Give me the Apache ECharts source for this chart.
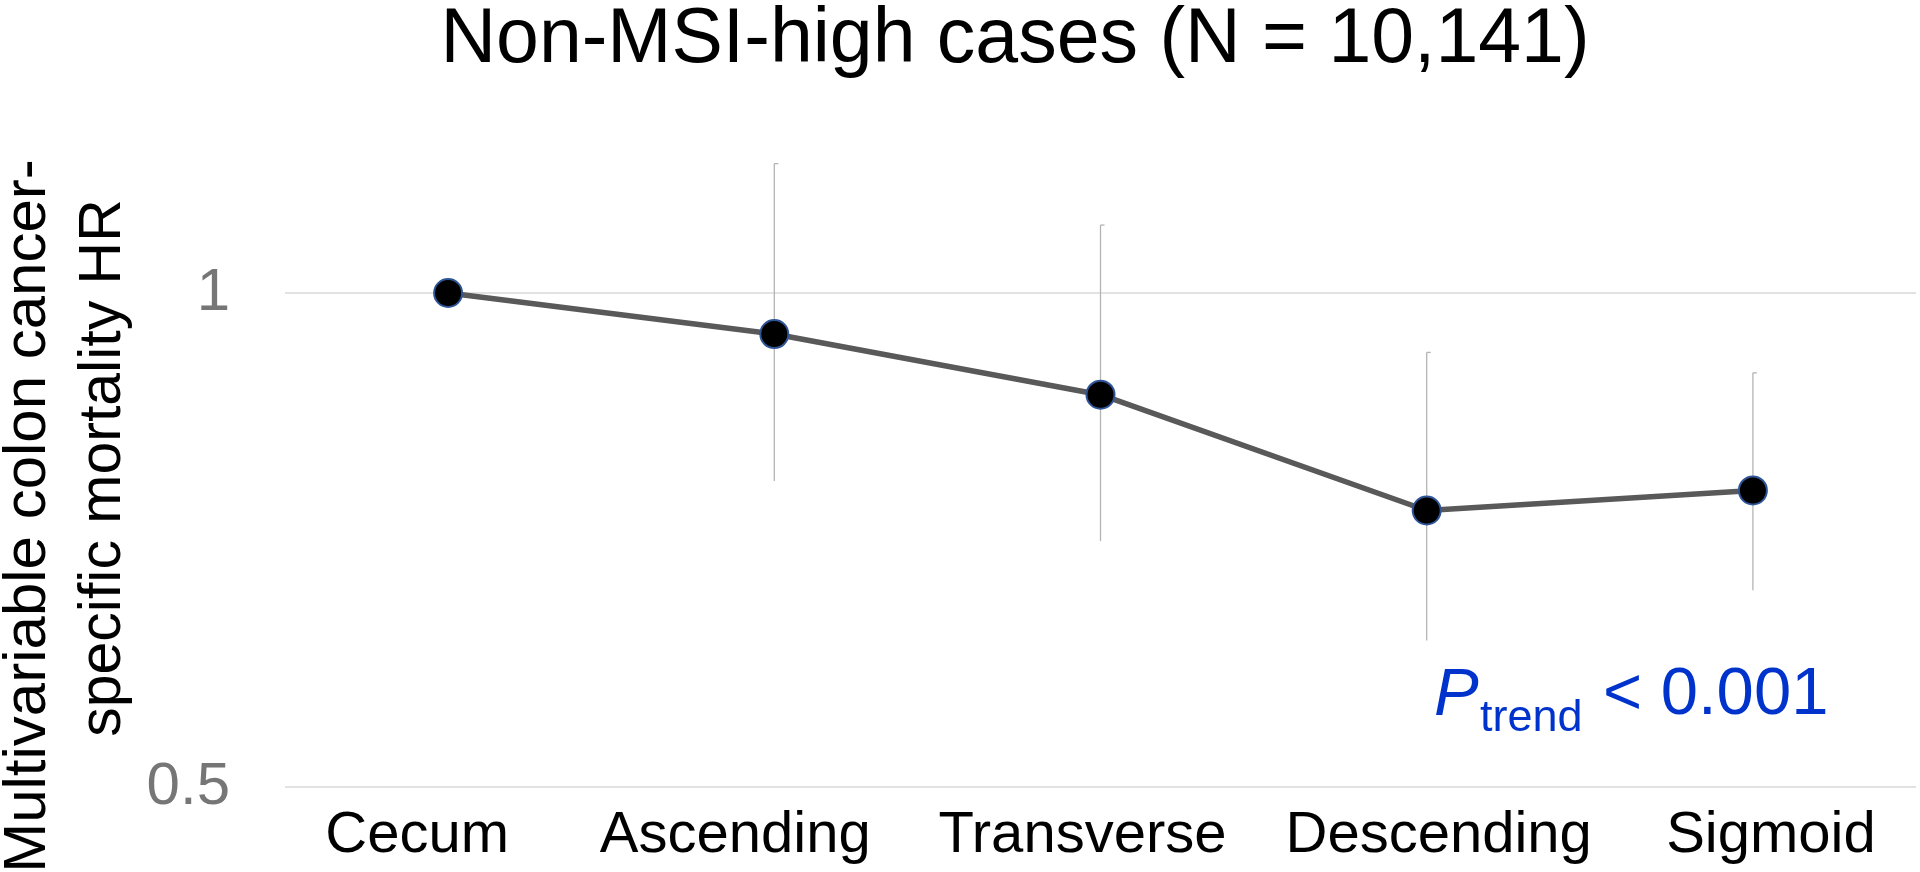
<!DOCTYPE html>
<html>
<head>
<meta charset="utf-8">
<title>Non-MSI-high cases</title>
<script src="https://cdn.jsdelivr.net/npm/echarts@6/dist/echarts.min.js"></script>
<style>
  html, body { margin: 0; padding: 0; background: #fff; }
  #chart { width: 1920px; height: 872px; }
</style>
</head>
<body>
<div id="chart"></div>
<script>
const sites = ['Cecum', 'Ascending', 'Transverse', 'Descending', 'Sigmoid']
const hr = [1.0, 0.944, 0.867, 0.737, 0.758]
const ciLow = [null, 0.768, 0.706, 0.614, 0.659]
const ciHigh = [null, 1.199, 1.10, 0.92, 0.894]

const font = '"Liberation Sans", Arial, sans-serif'
const blue = '#0033cc'

// labels in the original sit a bit off the point centres
const labelShift = [-31, -39, -18, 12, 18]

const errData = []
for (let i = 0; i < sites.length; i++) {
  if (ciLow[i] != null) errData.push([i, ciLow[i], ciHigh[i]])
}

const labelRich = {}
sites.forEach(function (s, i) {
  const d = labelShift[i] * 2
  labelRich['l' + i] = {
    fontFamily: font,
    fontSize: 58,
    color: '#000',
    padding: d < 0 ? [0, -d, 0, 0] : [0, 0, 0, d]
  }
})

const chart = echarts.init(document.getElementById('chart'))
chart.setOption({
  backgroundColor: '#fff',
  animation: false,
  title: {
    text: 'Non-MSI-high cases (N = 10,141)',
    left: 1010,
    top: -3,
    textAlign: 'center',
    textStyle: { fontFamily: font, fontSize: 77, fontWeight: 'normal', color: '#000' }
  },
  grid: { left: 285, right: 4, top: 106, bottom: 85 },
  xAxis: {
    type: 'category',
    data: sites,
    boundaryGap: true,
    axisLine: { show: false },
    axisTick: { show: false },
    axisLabel: {
      interval: 0,
      margin: 20,
      formatter: function (v, i) { return '{l' + i + '|' + v + '}' },
      rich: labelRich
    }
  },
  yAxis: {
    type: 'log',
    logBase: 2,
    min: 0.5,
    max: 1.3,
    axisLine: { show: false },
    axisTick: { show: false },
    axisLabel: {
      margin: 55,
      showMaxLabel: false,
      fontFamily: font,
      fontSize: 60,
      color: '#767676',
      formatter: function (v) { return Math.abs(v - 1) < 1e-6 ? '1' : (Math.abs(v - 0.5) < 1e-6 ? '0.5' : '') }
    },
    splitLine: { show: true, showMaxLine: false, lineStyle: { color: '#d9d9d9', width: 1.5 } }
  },
  graphic: [
    {
      type: 'text', x: 28, y: 516, rotation: Math.PI / 2,
      style: { text: 'Multivariable colon cancer-', font: '60px ' + font, fill: '#000', align: 'center', verticalAlign: 'middle' }
    },
    {
      type: 'text', x: 104, y: 468, rotation: Math.PI / 2,
      style: { text: 'specific mortality HR', font: '59px ' + font, fill: '#000', align: 'center', verticalAlign: 'middle' }
    },
    {
      type: 'text', x: 1434, y: 696,
      style: { text: 'P', font: 'italic 67px ' + font, fill: blue, align: 'left', verticalAlign: 'middle' }
    },
    {
      type: 'text', x: 1480, y: 719,
      style: { text: 'trend', font: '45px ' + font, fill: blue, align: 'left', verticalAlign: 'middle' }
    },
    {
      type: 'text', x: 1603, y: 696,
      style: { text: '< 0.001', font: '67px ' + font, fill: blue, align: 'left', verticalAlign: 'middle' }
    }
  ],
  series: [
    {
      type: 'custom',
      z: 1,
      data: errData,
      renderItem: function (params, api) {
        const lo = api.coord([api.value(0), api.value(1)])
        const hi = api.coord([api.value(0), api.value(2)])
        const style = { stroke: '#b4b4b4', lineWidth: 1.3 }
        return {
          type: 'group',
          children: [
            { type: 'line', shape: { x1: hi[0], y1: hi[1], x2: lo[0], y2: lo[1] }, style: style },
            { type: 'line', shape: { x1: hi[0], y1: hi[1], x2: hi[0] + 4, y2: hi[1] }, style: style }
          ]
        }
      }
    },
    {
      type: 'line',
      z: 3,
      data: hr,
      symbol: 'circle',
      symbolSize: 28,
      lineStyle: { color: '#595959', width: 5.5 },
      itemStyle: { color: '#000', borderColor: '#2f5597', borderWidth: 2 }
    }
  ]
})
</script>
</body>
</html>
